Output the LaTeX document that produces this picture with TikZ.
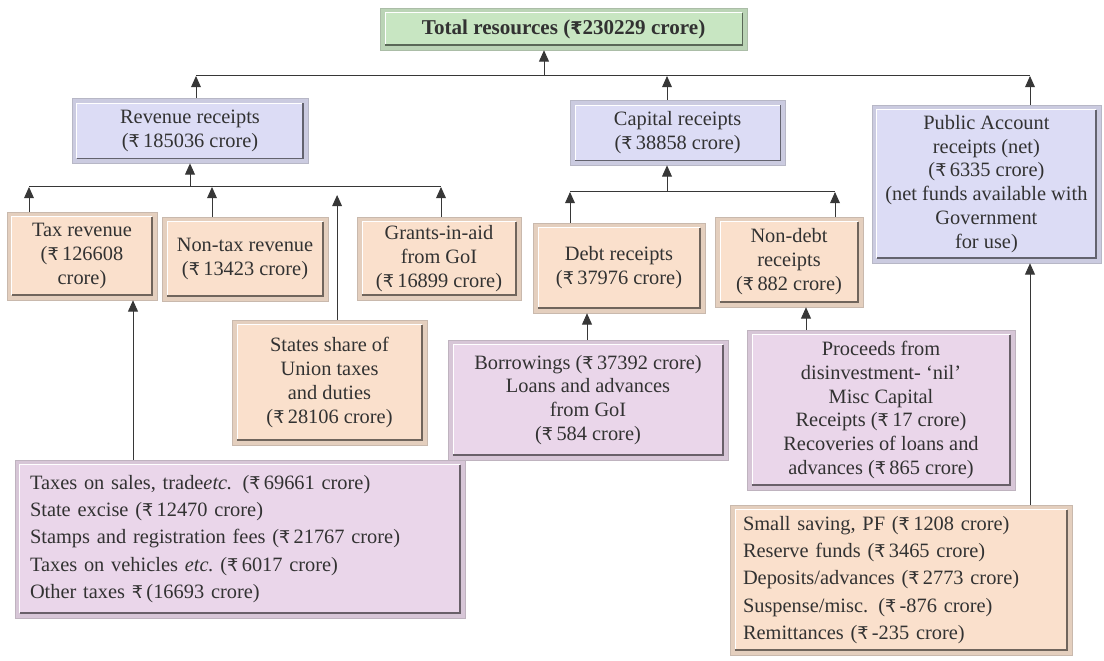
\documentclass[tikz,border=0pt]{standalone}
\usepackage{fontspec}
\setmainfont{Liberation Serif}
\newfontfamily\rsfont{DejaVu Sans}
\newcommand{\rs}{{\rsfont\fontsize{12.5}{12.5}\selectfont ₹}}
\usepackage{xcolor}
\definecolor{tgreen}{RGB}{200,230,194}
\definecolor{tblue}{RGB}{220,220,245}
\definecolor{tpeach}{RGB}{250,224,204}
\definecolor{tpink}{RGB}{234,214,234}
\definecolor{tline}{RGB}{55,55,55}
\definecolor{ttext}{RGB}{50,50,50}
\usetikzlibrary{arrows.meta,positioning,calc}

\begin{document}
\begin{tikzpicture}[every node/.style={font=\fontsize{14.5}{17}\selectfont},
    panel/.style={draw=#1!60!gray,line width=0.4pt,fill=#1!82!gray,text=ttext,
      align=center,inner sep=2pt,
      path picture={
        \fill[#1] ([shift={(3.5pt,3.5pt)}]path picture bounding box.south west)
          rectangle ([shift={(-3.5pt,-3.5pt)}]path picture bounding box.north east);
        \draw[white,line width=0.6pt] ([shift={(3.5pt,3.5pt)}]path picture bounding box.south west)
          |- ([shift={(-3.5pt,-3.5pt)}]path picture bounding box.north east);
        \draw[#1!45!black,line width=0.9pt] ([shift={(3.5pt,3.5pt)}]path picture bounding box.south west)
          -| ([shift={(-3.5pt,-3.5pt)}]path picture bounding box.north east);}},
    listbox/.style={panel=#1,align=left,font=\fontsize{14.5}{19.5}\selectfont},
    bus/.style={tline,line width=0.7pt},
    arr/.style={tline,line width=0.7pt,-{Triangle[length=8pt,width=7pt]}}]

  \useasboundingbox (0,0) rectangle (27.6,16.525);

  %% Top level
  \node[panel=tgreen,minimum width=9.175cm,minimum height=1.05cm,font=\fontsize{15}{17}\selectfont\bfseries]
    (total) at (14.09,15.80) {Total resources (\rs230229 crore)};

  \node[panel=tblue,minimum width=5.9cm,minimum height=1.625cm] (rev) at (4.75,13.26)
    {Revenue receipts\\(\rs\,185036 crore)};
  \node[panel=tblue,minimum width=5.375cm,minimum height=1.625cm] (cap) at (16.94,13.21)
    {Capital receipts\\(\rs\,38858 crore)};
  \node[panel=tblue,minimum width=5.725cm,minimum height=3.95cm] (pub) at (24.66,11.925)
    {Public Account\\receipts (net)\\(\rs\,6335 crore)\\(net funds available with\\Government\\for use)};

  \coordinate (tbusL) at (4.9,14.625);
  \coordinate (tbusR) at (25.75,14.625);
  \draw[bus] (tbusL) -- (tbusR);
  \draw[arr] ([xshift=-0.49cm]total.south |- tbusL) -- ([xshift=-0.49cm]total.south);
  \draw[arr] (tbusL |- rev.north) -- (tbusL);
  \draw[arr] ([xshift=-0.265cm]cap.north) -- ([xshift=-0.265cm]cap.north |- tbusL);
  \draw[arr] (tbusR |- pub.north) -- (tbusR);

  %% Revenue receipts
  \node[panel=tpeach,minimum width=3.75cm,minimum height=2.2cm] (tax) at (2.05,10.125)
    {Tax revenue\\(\rs\,126608\\crore)};
  \node[panel=tpeach,minimum width=4.15cm,minimum height=2.1cm] (nontax) at (6.125,10.05)
    {Non-tax revenue\\(\rs\,13423 crore)};
  \node[panel=tpeach,minimum width=4.1cm,minimum height=2.075cm] (grants) at (10.975,10.0625)
    {Grants-in-aid\\from GoI\\(\rs\,16899 crore)};
  \node[panel=tpeach,minimum width=4.875cm,minimum height=3.125cm] (share) at (8.2375,6.9625)
    {States share of\\Union taxes\\and duties\\(\rs\,28106 crore)};
  \node[listbox=tpink,text width=10.5cm,inner xsep=0.375cm,minimum height=3.95cm] (taxlist) at (6.0,3.05)
    {Taxes on sales, trade\textit{etc.} (\rs\,69661 crore)\\
     State excise (\rs\,12470 crore)\\
     Stamps and registration fees (\rs\,21767 crore)\\
     Taxes on vehicles \textit{etc.}\ (\rs\,6017 crore)\\
     Other taxes \rs\,(16693 crore)};

  \coordinate (rbusL) at (0.725,11.85);
  \coordinate (rbusR) at (11.025,11.85);
  \draw[bus] (rbusL) -- (rbusR);
  \draw[arr] (rev.south |- rbusL) -- (rev.south);
  \draw[arr] (rbusL |- tax.north) -- (rbusL);
  \draw[arr] ([xshift=-0.825cm]nontax.north) -- ([xshift=-0.825cm]nontax.north |- rbusL);
  \draw[arr] ([xshift=0.19cm]share.north) -- ([xshift=0.19cm,yshift=-0.2cm]share.north |- rbusL);
  \draw[arr] (rbusR |- grants.north) -- (rbusR);
  \draw[arr] ([xshift=-2.675cm]taxlist.north) -- ([xshift=-2.675cm]taxlist.north |- tax.south);

  %% Capital receipts
  \node[panel=tpeach,minimum width=4.3cm,minimum height=2.25cm] (debt) at (15.475,9.825)
    {Debt receipts\\(\rs\,37976 crore)};
  \node[panel=tpeach,minimum width=3.7cm,minimum height=2.25cm] (nondebt) at (19.725,9.975)
    {Non-debt\\receipts\\(\rs\,882 crore)};
  \node[panel=tpink,minimum width=7.0cm,minimum height=3.0cm] (borrow) at (14.7,6.525)
    {Borrowings (\rs\,37392 crore)\\Loans and advances\\from GoI\\(\rs\,584 crore)};
  \node[panel=tpink,minimum width=6.7cm,minimum height=4.0cm] (proceeds) at (22.025,6.275)
    {Proceeds from\\disinvestment- ‘nil’\\Misc Capital\\Receipts (\rs\,17 crore)\\Recoveries of loans and\\advances (\rs\,865 crore)};

  \coordinate (cbusL) at (14.25,11.725);
  \coordinate (cbusR) at (20.875,11.725);
  \draw[bus] (cbusL) -- (cbusR);
  \draw[arr] ([xshift=-0.265cm]cap.south |- cbusL) -- ([xshift=-0.265cm]cap.south);
  \draw[arr] (cbusL |- debt.north) -- (cbusL);
  \draw[arr] (cbusR |- nondebt.north) -- (cbusR);
  \draw[arr] ([xshift=-0.8cm]debt.south |- borrow.north) -- ([xshift=-0.8cm]debt.south);
  \draw[arr] ([xshift=0.425cm]nondebt.south |- proceeds.north) -- ([xshift=0.425cm]nondebt.south);

  %% Public account
  \node[listbox=tpeach,text width=7.9cm,inner xsep=0.325cm,minimum height=3.75cm] (publist) at (22.525,2.025)
    {Small saving, PF (\rs\,1208 crore)\\
     Reserve funds (\rs\,3465 crore)\\
     Deposits/advances (\rs\,2773 crore)\\
     Suspense/misc. (\rs\,-876 crore)\\
     Remittances (\rs\,-235 crore)};
  \draw[arr] (tbusR |- publist.north) -- (tbusR |- pub.south);
\end{tikzpicture}
\end{document}
